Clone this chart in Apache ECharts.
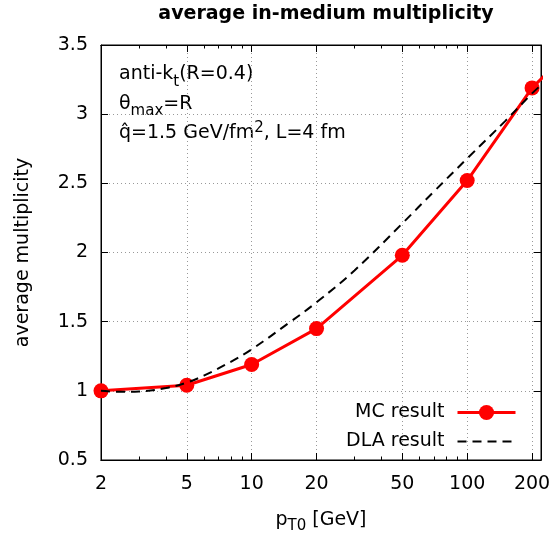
<!DOCTYPE html>
<html>
<head>
<meta charset="utf-8">
<script src="https://cdn.jsdelivr.net/npm/echarts@6/dist/echarts.min.js"></script>
<style>
  html, body { margin: 0; padding: 0; background: #fff; }
  #chart { width: 550px; height: 533px; }
</style>
</head>
<body>
<div id="chart"></div>
<script>
// values
const ptMC = [2, 5, 10, 20, 50, 100, 200, 250];
const multMC = [1.0, 1.04, 1.19, 1.45, 1.98, 2.52, 3.19, 3.34];

const ptDLA = [2, 2.5, 3, 4, 5, 6, 8, 10, 15, 20, 30, 50, 70, 100, 150, 200, 220];
const multDLA = [1.0, 0.993, 0.995, 1.02, 1.06, 1.11, 1.21, 1.30, 1.495, 1.64, 1.87, 2.21, 2.44, 2.68, 2.95, 3.15, 3.21];

const xMajor = [2, 5, 10, 20, 50, 100, 200];
const xMinor = [3, 4, 6, 7, 8, 9, 30, 40, 60, 70, 80, 90];

const font = 'DejaVu Sans';
const fs = 19;
const chart = echarts.init(document.getElementById('chart'));

const xBase = {
  type: 'log',
  logBase: 10,
  min: 2,
  max: 220,
  gridIndex: 0,
  axisLine: { show: true, onZero: false, lineStyle: { color: '#000', width: 1 } },
  axisLabel: { show: false },
  splitLine: { show: false },
  minorTick: { show: false },
};
const tickStyle = { color: '#000', width: 1 };

chart.setOption({
  animation: false,
  title: {
    text: 'average in-medium multiplicity',
    left: 321,
    textAlign: 'center',
    top: 0,
    textStyle: { fontFamily: font, fontWeight: 'bold', fontSize: fs, color: '#000' },
  },
  grid: {
    left: 101, right: 9, top: 45, bottom: 73,
    outerBoundsMode: 'none',
    containLabel: false,
    show: true, borderColor: '#000', borderWidth: 1,
  },
  legend: {
    orient: 'vertical',
    right: 28,
    top: 398,
    align: 'right',
    itemWidth: 58,
    itemHeight: 19,
    itemGap: 10,
    textStyle: { fontFamily: font, fontSize: fs, lineHeight: 19, color: '#000', padding: [0, 8, 0, 0] },
    data: [
      { name: 'MC result', lineStyle: { width: 3 } },
      { name: 'DLA result', itemStyle: { opacity: 0 }, lineStyle: { width: 2 } },
    ],
  },
  xAxis: [
    Object.assign({}, xBase, {
      position: 'bottom',
      name: '{a|p}{s|T0}{a| [GeV]}',
      nameLocation: 'middle',
      nameGap: 46,
      nameTextStyle: {
        rich: {
          a: { fontFamily: font, fontSize: fs, color: '#000', lineHeight: 28, verticalAlign: 'middle' },
          s: { fontFamily: font, fontSize: 15, color: '#000', lineHeight: 15, verticalAlign: 'bottom' },
        },
      },
      axisTick: { show: true, inside: true, length: 7, lineStyle: tickStyle, customValues: xMajor },
      axisLabel: { show: true, customValues: xMajor, margin: 15, fontFamily: font, fontSize: fs, color: '#000' },
      splitLine: { show: true, customValues: xMajor, lineStyle: { color: '#999', type: [1, 3], width: 1 } },
    }),
    Object.assign({}, xBase, {
      position: 'bottom',
      axisTick: { show: true, inside: true, length: 3.5, lineStyle: tickStyle, customValues: xMinor },
    }),
    Object.assign({}, xBase, {
      position: 'top',
      axisTick: { show: true, inside: true, length: 7, lineStyle: tickStyle, customValues: xMajor },
    }),
    Object.assign({}, xBase, {
      position: 'top',
      axisTick: { show: true, inside: true, length: 3.5, lineStyle: tickStyle, customValues: xMinor },
    }),
  ],
  yAxis: [
    {
      type: 'value',
      min: 0.5,
      max: 3.5,
      interval: 0.5,
      position: 'left',
      name: 'average multiplicity',
      nameLocation: 'middle',
      nameGap: 68,
      nameTextStyle: { fontFamily: font, fontSize: fs, color: '#000' },
      axisLine: { show: true, onZero: false, lineStyle: { color: '#000' } },
      axisTick: { show: true, inside: true, length: 7, lineStyle: tickStyle },
      axisLabel: { margin: 13, fontFamily: font, fontSize: fs, color: '#000' },
      splitLine: { show: true, lineStyle: { color: '#999', type: [1, 3], width: 1 } },
    },
    {
      type: 'value',
      min: 0.5,
      max: 3.5,
      interval: 0.5,
      position: 'right',
      axisLine: { show: true, onZero: false, lineStyle: { color: '#000' } },
      axisTick: { show: true, inside: true, length: 7, lineStyle: tickStyle },
      axisLabel: { show: false },
      splitLine: { show: false },
    },
  ],
  graphic: [
    {
      type: 'text',
      left: 119,
      top: 65,
      style: {
        text: '{n|anti-k}{s|t}{n|(R=0.4)}\n{n|θ}{s|max}{n|=R}\n{n|q̂=1.5 GeV/fm}{p|2}{n|, L=4 fm}',
        rich: {
          n: { fontFamily: font, fontSize: fs, fill: '#000', lineHeight: 29.5, verticalAlign: 'middle' },
          s: { fontFamily: font, fontSize: 15, fill: '#000', lineHeight: 15, verticalAlign: 'bottom' },
          p: { fontFamily: font, fontSize: 15, fill: '#000', lineHeight: 15, verticalAlign: 'top', padding: [2, 0, 0, 0] },
        },
      },
    },
  ],
  series: [
    {
      name: 'DLA result',
      type: 'line',
      xAxisIndex: 0,
      yAxisIndex: 0,
      data: ptDLA.map((x, i) => [x, multDLA[i]]),
      smooth: 0.4,
      symbol: 'none',
      clip: true,
      lineStyle: { color: '#000', width: 2, type: [9, 6] },
      itemStyle: { color: '#000' },
      z: 3,
    },
    {
      name: 'MC result',
      type: 'line',
      xAxisIndex: 0,
      yAxisIndex: 0,
      data: ptMC.map((x, i) => [x, multMC[i]]),
      symbol: 'circle',
      symbolSize: 15,
      clip: true,
      lineStyle: { color: '#ff0000', width: 3 },
      itemStyle: { color: '#ff0000' },
      z: 2,
    },
  ],
});
</script>
</body>
</html>
